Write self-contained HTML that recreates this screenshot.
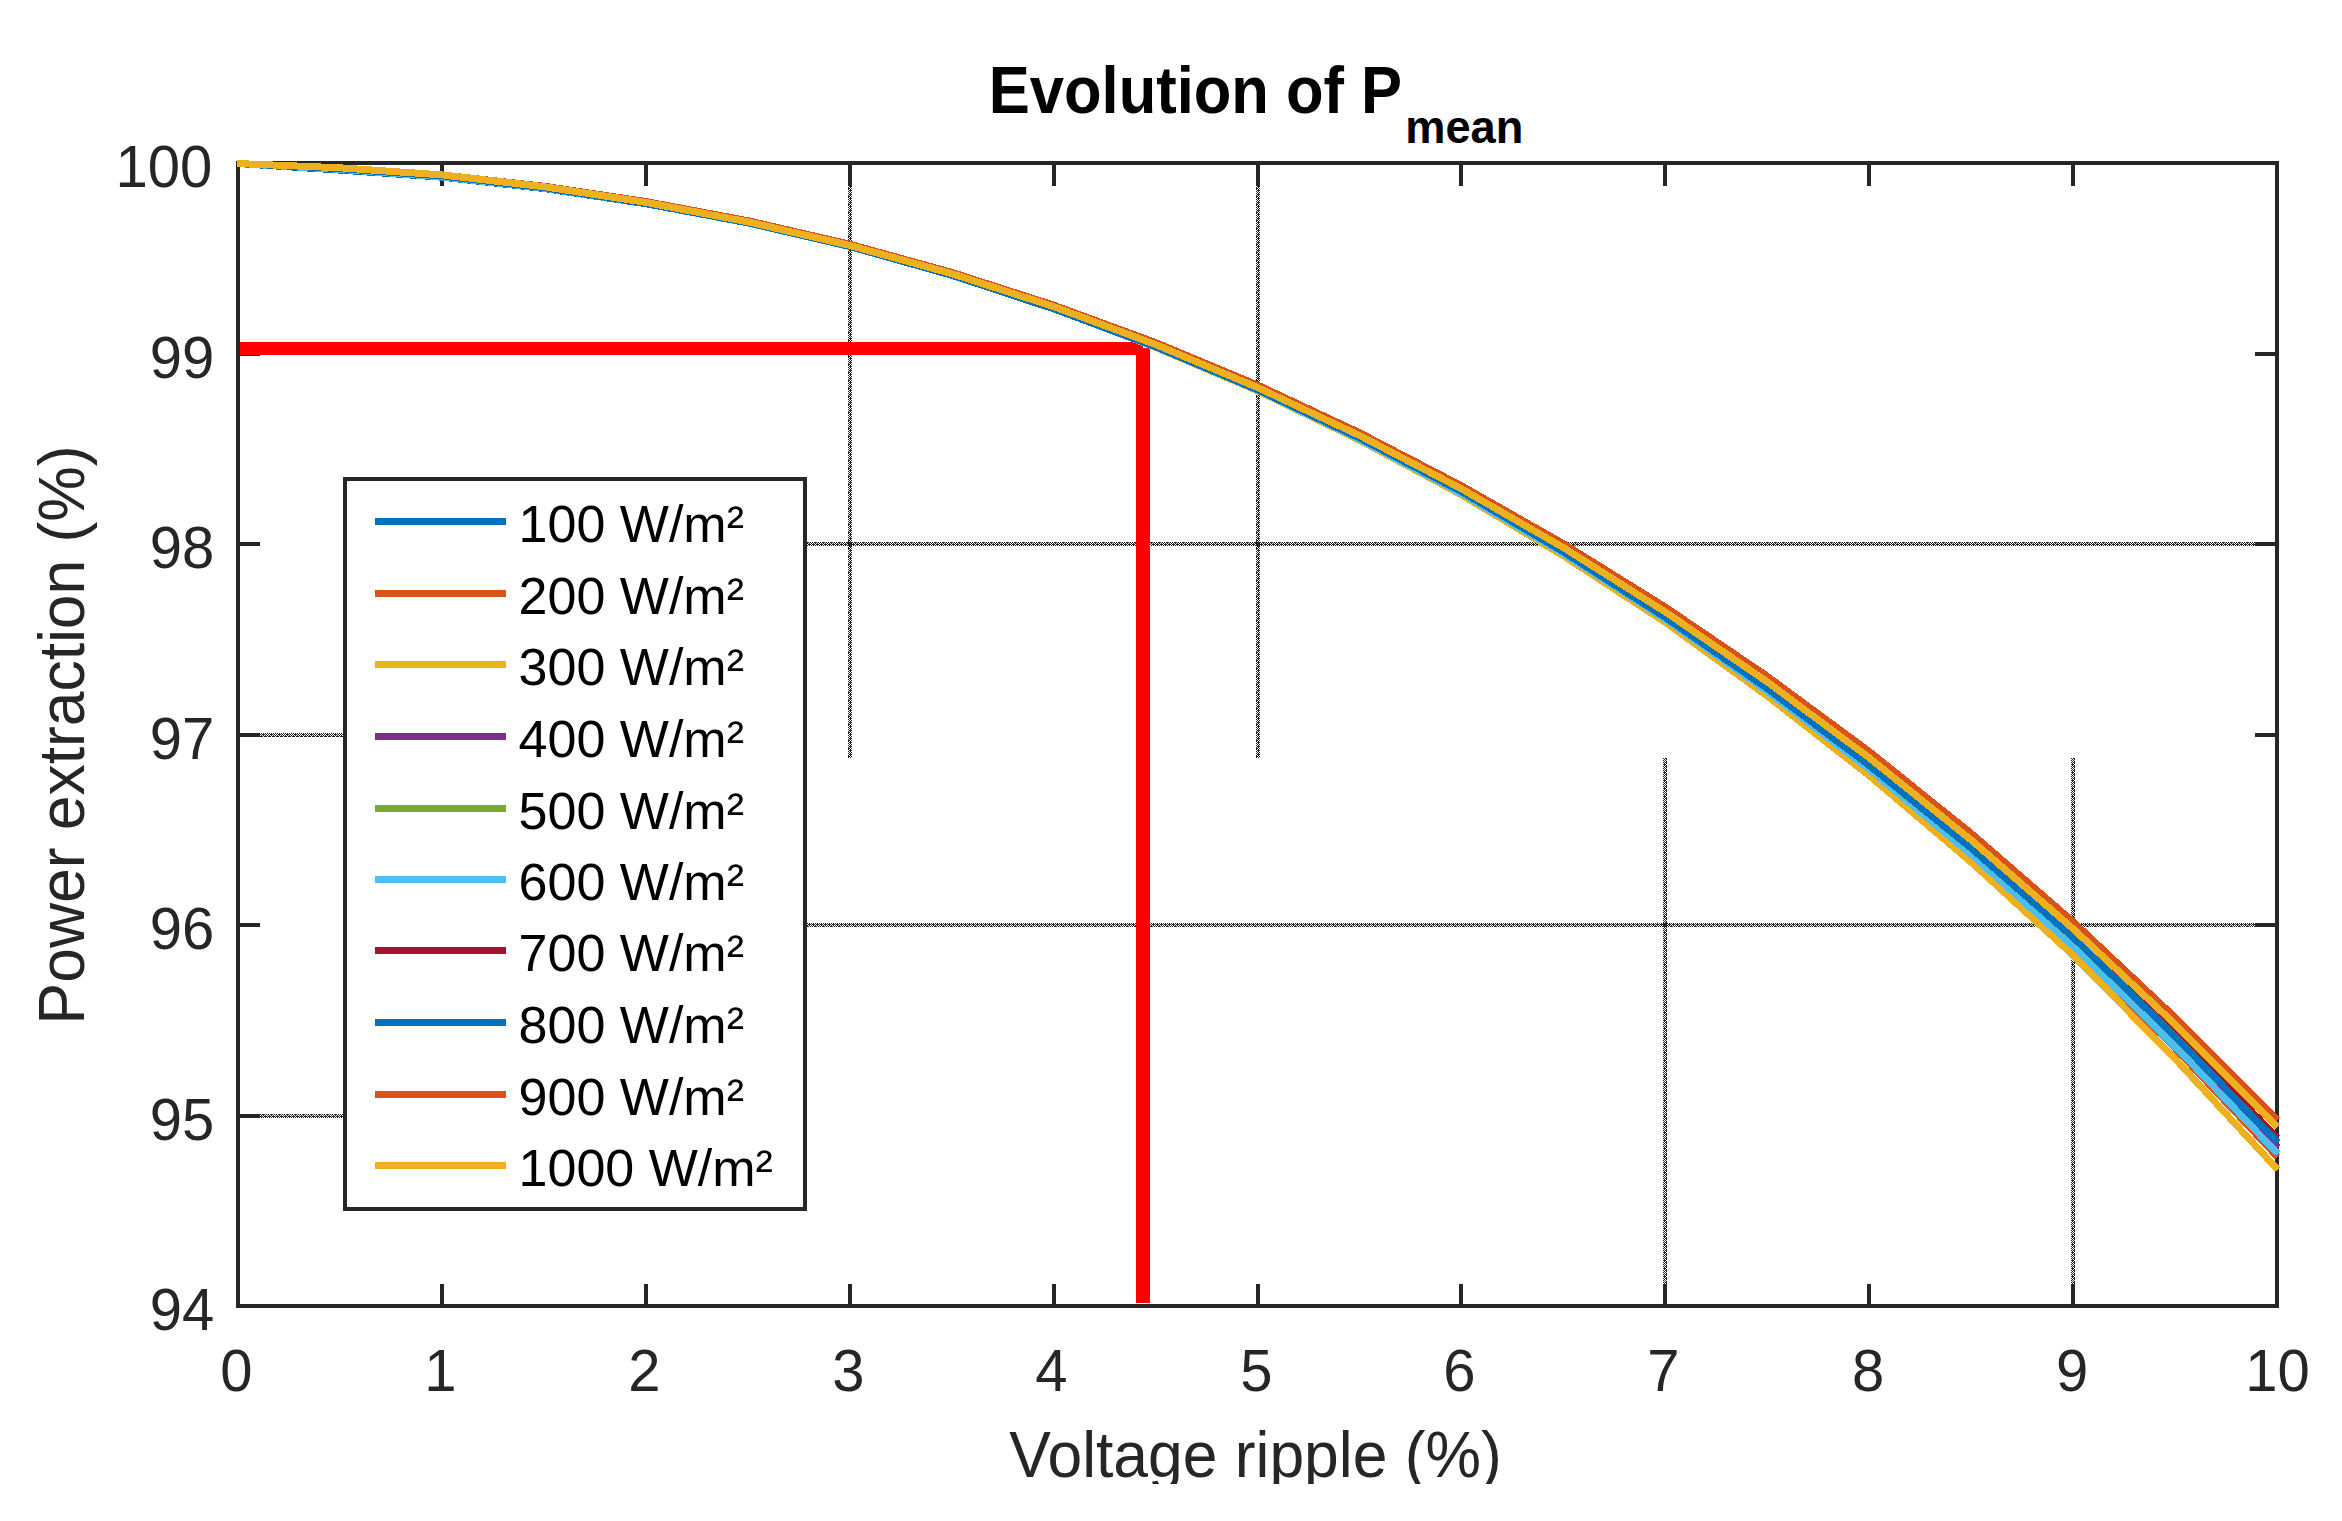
<!DOCTYPE html>
<html lang="en"><head><meta charset="utf-8"><title>Evolution of Pmean</title>
<style>
html,body{margin:0;padding:0;background:#fff;}
body{width:2342px;height:1521px;overflow:hidden;}
svg{display:block;}
text{font-family:"Liberation Sans", sans-serif;}
.tk{font-size:58px;fill:#262626;}
.lb{font-size:62.4px;fill:#262626;}
.lg{font-size:52px;fill:#000;}
.tt{font-size:61.6px;font-weight:bold;fill:#000;}
.sb{font-size:45.2px;font-weight:bold;fill:#000;}
</style></head><body>
<svg width="2342" height="1521" viewBox="0 0 2342 1521">
<defs>
<pattern id="gv" width="4" height="8" patternUnits="userSpaceOnUse"><g fill="#1f1f1f"><rect x="1" y="0" width="1" height="1"/><rect x="3" y="0" width="1" height="1"/><rect x="0" y="1" width="1" height="1"/><rect x="2" y="1" width="1" height="1"/><rect x="1" y="2" width="1" height="1"/><rect x="2" y="2" width="1" height="1"/><rect x="3" y="2" width="1" height="1"/><rect x="0" y="3" width="1" height="1"/><rect x="2" y="3" width="1" height="1"/><rect x="0" y="4" width="1" height="1"/><rect x="1" y="4" width="1" height="1"/><rect x="3" y="4" width="1" height="1"/><rect x="0" y="5" width="1" height="1"/><rect x="2" y="5" width="1" height="1"/><rect x="1" y="6" width="1" height="1"/><rect x="2" y="6" width="1" height="1"/><rect x="3" y="6" width="1" height="1"/><rect x="0" y="7" width="1" height="1"/><rect x="2" y="7" width="1" height="1"/></g></pattern>
<pattern id="gh" width="8" height="4" patternUnits="userSpaceOnUse" x="3" y="2"><g fill="#1f1f1f"><rect x="0" y="1" width="1" height="1"/><rect x="0" y="3" width="1" height="1"/><rect x="1" y="0" width="1" height="1"/><rect x="1" y="2" width="1" height="1"/><rect x="2" y="1" width="1" height="1"/><rect x="2" y="2" width="1" height="1"/><rect x="2" y="3" width="1" height="1"/><rect x="3" y="0" width="1" height="1"/><rect x="3" y="2" width="1" height="1"/><rect x="4" y="0" width="1" height="1"/><rect x="4" y="1" width="1" height="1"/><rect x="4" y="3" width="1" height="1"/><rect x="5" y="0" width="1" height="1"/><rect x="5" y="2" width="1" height="1"/><rect x="6" y="1" width="1" height="1"/><rect x="6" y="2" width="1" height="1"/><rect x="6" y="3" width="1" height="1"/><rect x="7" y="0" width="1" height="1"/><rect x="7" y="2" width="1" height="1"/></g></pattern>
<clipPath id="xlclip"><rect x="0" y="1380" width="2342" height="104"/></clipPath>
</defs>
<rect width="2342" height="1521" fill="#fff"/>
<g fill="url(#gv)" shape-rendering="crispEdges">
<rect x="848" y="186" width="4" height="572"/>
<rect x="1256" y="186" width="4" height="572"/>
<rect x="1663" y="758" width="4" height="526"/>
<rect x="2071" y="758" width="4" height="526"/>
</g>
<g fill="url(#gh)" shape-rendering="crispEdges">
<rect x="807" y="542" width="1448" height="4"/>
<rect x="807" y="923" width="1448" height="4"/>
<rect x="260" y="733" width="83" height="4"/>
<rect x="260" y="1114" width="83" height="4"/>
</g>
<g fill="#1f1f1f" shape-rendering="crispEdges">
<rect x="1256" y="542" width="4" height="4"/>
<rect x="1663" y="923" width="4" height="4"/>
</g>
<g fill="#262626" shape-rendering="crispEdges">
<rect x="236" y="161" width="4" height="1147"/>
<rect x="2275" y="161" width="4" height="1147"/>
<rect x="236" y="161" width="2043" height="4"/>
<rect x="236" y="1304" width="2043" height="4"/>
<rect x="440" y="163" width="4" height="23"/>
<rect x="440" y="1284" width="4" height="22"/>
<rect x="644" y="163" width="4" height="23"/>
<rect x="644" y="1284" width="4" height="22"/>
<rect x="848" y="163" width="4" height="23"/>
<rect x="848" y="1284" width="4" height="22"/>
<rect x="1052" y="163" width="4" height="23"/>
<rect x="1052" y="1284" width="4" height="22"/>
<rect x="1256" y="163" width="4" height="23"/>
<rect x="1256" y="1284" width="4" height="22"/>
<rect x="1459" y="163" width="4" height="23"/>
<rect x="1459" y="1284" width="4" height="22"/>
<rect x="1663" y="163" width="4" height="23"/>
<rect x="1663" y="1284" width="4" height="22"/>
<rect x="1867" y="163" width="4" height="23"/>
<rect x="1867" y="1284" width="4" height="22"/>
<rect x="2071" y="163" width="4" height="23"/>
<rect x="2071" y="1284" width="4" height="22"/>
<rect x="238" y="352" width="22" height="4"/>
<rect x="2255" y="352" width="22" height="4"/>
<rect x="238" y="542" width="22" height="4"/>
<rect x="2255" y="542" width="22" height="4"/>
<rect x="238" y="733" width="22" height="4"/>
<rect x="2255" y="733" width="22" height="4"/>
<rect x="238" y="923" width="22" height="4"/>
<rect x="2255" y="923" width="22" height="4"/>
<rect x="238" y="1114" width="22" height="4"/>
<rect x="2255" y="1114" width="22" height="4"/>
</g>
<g fill="#FF0000" shape-rendering="crispEdges">
<rect x="240" y="342" width="903" height="13"/>
<rect x="1136" y="348" width="14" height="955"/>
</g>
<g fill="none" stroke-width="7" stroke-linejoin="round" stroke-linecap="butt" shape-rendering="crispEdges">
<polyline stroke="#0072BD" points="237.0,163.5 339.9,170.1 441.9,177.2 543.9,188.5 645.8,203.7 747.8,222.9 849.7,246.4 951.6,275.2 1053.6,308.8 1155.5,346.7 1257.5,389.7 1359.5,438.0 1461.4,491.5 1563.3,551.7 1665.3,617.4 1767.2,688.4 1869.2,765.4 1971.2,848.1 2073.1,937.3 2175.1,1036.3 2277.6,1142.5"/>
<polyline stroke="#D95319" points="237.0,163.5 339.9,168.9 441.9,176.1 543.9,187.8 645.8,203.4 747.8,222.9 849.7,246.6 951.6,275.3 1053.6,308.8 1155.5,346.9 1257.5,390.1 1359.5,439.1 1461.4,493.4 1563.3,553.4 1665.3,619.0 1767.2,691.1 1869.2,769.1 1971.2,854.5 2073.1,946.4 2175.1,1048.1 2277.6,1157.0"/>
<polyline stroke="#EDB120" points="237.0,163.5 339.9,168.3 441.9,175.5 543.9,187.4 645.8,203.2 747.8,222.7 849.7,246.4 951.6,275.1 1053.6,308.6 1155.5,347.2 1257.5,390.8 1359.5,440.2 1461.4,494.8 1563.3,555.8 1665.3,622.3 1767.2,696.0 1869.2,775.6 1971.2,862.2 2073.1,955.3 2175.1,1058.8 2277.6,1169.5"/>
<polyline stroke="#7E2F8E" points="237.0,163.5 339.9,168.8 441.9,175.9 543.9,187.6 645.8,203.3 747.8,222.7 849.7,246.3 951.6,275.0 1053.6,308.4 1155.5,346.5 1257.5,389.7 1359.5,438.1 1461.4,491.8 1563.3,552.1 1665.3,617.9 1767.2,689.4 1869.2,766.8 1971.2,850.6 2073.1,940.8 2175.1,1040.6 2277.6,1147.5"/>
<polyline stroke="#77AC30" points="237.0,163.5 339.9,169.4 441.9,176.9 543.9,188.2 645.8,203.5 747.8,222.9 849.7,246.6 951.6,275.3 1053.6,308.8 1155.5,346.9 1257.5,390.1 1359.5,439.1 1461.4,493.4 1563.3,553.4 1665.3,619.0 1767.2,691.1 1869.2,769.1 1971.2,854.3 2073.1,946.0 2175.1,1046.2 2277.6,1153.5"/>
<polyline stroke="#4DBEEE" points="237.0,163.5 339.9,169.4 441.9,176.9 543.9,188.2 645.8,203.5 747.8,222.9 849.7,246.6 951.6,275.3 1053.6,308.8 1155.5,346.9 1257.5,390.1 1359.5,439.1 1461.4,493.4 1563.3,553.4 1665.3,619.0 1767.2,691.1 1869.2,769.1 1971.2,854.3 2073.1,946.0 2175.1,1046.2 2277.6,1153.5"/>
<polyline stroke="#A2142F" points="237.0,163.5 339.9,168.0 441.9,175.2 543.9,187.1 645.8,202.9 747.8,222.3 849.7,246.0 951.6,274.4 1053.6,307.6 1155.5,345.8 1257.5,389.0 1359.5,437.3 1461.4,490.8 1563.3,550.6 1665.3,615.9 1767.2,686.6 1869.2,763.3 1971.2,845.8 2073.1,934.8 2175.1,1032.9 2277.6,1138.2"/>
<polyline stroke="#0072BD" points="237.0,163.5 339.9,168.6 441.9,175.9 543.9,187.7 645.8,203.5 747.8,222.8 849.7,246.4 951.6,275.2 1053.6,308.8 1155.5,346.7 1257.5,389.7 1359.5,438.0 1461.4,491.5 1563.3,551.7 1665.3,617.4 1767.2,688.4 1869.2,765.4 1971.2,848.1 2073.1,937.3 2175.1,1036.3 2277.6,1142.5"/>
<polyline stroke="#D95319" points="237.0,163.5 339.9,167.8 441.9,174.9 543.9,186.2 645.8,201.5 747.8,220.7 849.7,244.2 951.6,272.3 1053.6,305.1 1155.5,342.5 1257.5,385.0 1359.5,432.7 1461.4,485.7 1563.3,543.6 1665.3,607.0 1767.2,676.2 1869.2,751.4 1971.2,833.3 2073.1,921.6 2175.1,1017.4 2277.6,1120.3"/>
<polyline stroke="#EDB120" points="237.0,163.5 339.9,167.8 441.9,174.9 543.9,186.7 645.8,202.4 747.8,221.8 849.7,245.4 951.6,273.6 1053.6,306.6 1155.5,344.5 1257.5,387.5 1359.5,435.5 1461.4,488.8 1563.3,547.6 1665.3,611.9 1767.2,681.9 1869.2,757.8 1971.2,840.1 2073.1,928.8 2175.1,1024.3 2277.6,1127.0"/>
</g>
<rect x="345" y="479" width="460" height="730" fill="#fff" stroke="#262626" stroke-width="4" shape-rendering="crispEdges"/>
<rect x="375" y="518" width="131" height="7" fill="#0072BD" shape-rendering="crispEdges"/>
<text class="lg" x="518.6" y="542.2">100 W/m²</text>
<rect x="375" y="590" width="131" height="7" fill="#D95319" shape-rendering="crispEdges"/>
<text class="lg" x="518.6" y="614.2">200 W/m²</text>
<rect x="375" y="661" width="131" height="7" fill="#EDB120" shape-rendering="crispEdges"/>
<text class="lg" x="518.6" y="685.2">300 W/m²</text>
<rect x="375" y="733" width="131" height="7" fill="#7E2F8E" shape-rendering="crispEdges"/>
<text class="lg" x="518.6" y="757.2">400 W/m²</text>
<rect x="375" y="805" width="131" height="7" fill="#77AC30" shape-rendering="crispEdges"/>
<text class="lg" x="518.6" y="829.2">500 W/m²</text>
<rect x="375" y="876" width="131" height="7" fill="#4DBEEE" shape-rendering="crispEdges"/>
<text class="lg" x="518.6" y="900.2">600 W/m²</text>
<rect x="375" y="947" width="131" height="7" fill="#A2142F" shape-rendering="crispEdges"/>
<text class="lg" x="518.6" y="971.2">700 W/m²</text>
<rect x="375" y="1019" width="131" height="7" fill="#0072BD" shape-rendering="crispEdges"/>
<text class="lg" x="518.6" y="1043.2">800 W/m²</text>
<rect x="375" y="1091" width="131" height="7" fill="#D95319" shape-rendering="crispEdges"/>
<text class="lg" x="518.6" y="1115.2">900 W/m²</text>
<rect x="375" y="1162" width="131" height="7" fill="#EDB120" shape-rendering="crispEdges"/>
<text class="lg" x="518.6" y="1186.2">1000 W/m²</text>
<text class="tk" text-anchor="middle" transform="translate(236.4,1390.6) scale(1,1.018)">0</text>
<text class="tk" text-anchor="middle" transform="translate(440.4,1390.6) scale(1,1.018)">1</text>
<text class="tk" text-anchor="middle" transform="translate(644.4,1390.6) scale(1,1.018)">2</text>
<text class="tk" text-anchor="middle" transform="translate(848.4,1390.6) scale(1,1.018)">3</text>
<text class="tk" text-anchor="middle" transform="translate(1051.4,1390.6) scale(1,1.018)">4</text>
<text class="tk" text-anchor="middle" transform="translate(1256.4,1390.6) scale(1,1.018)">5</text>
<text class="tk" text-anchor="middle" transform="translate(1459.4,1390.6) scale(1,1.018)">6</text>
<text class="tk" text-anchor="middle" transform="translate(1663.4,1390.6) scale(1,1.018)">7</text>
<text class="tk" text-anchor="middle" transform="translate(1868.1,1390.6) scale(1,1.018)">8</text>
<text class="tk" text-anchor="middle" transform="translate(2072.1,1390.6) scale(1,1.018)">9</text>
<text class="tk" text-anchor="middle" transform="translate(2277.4,1390.6) scale(1,1.018)">10</text>
<text class="tk" text-anchor="end" transform="translate(212.3,186.8) scale(1,1.018)">100</text>
<text class="tk" text-anchor="end" transform="translate(214.3,377.8) scale(1,1.018)">99</text>
<text class="tk" text-anchor="end" transform="translate(214.3,567.8) scale(1,1.018)">98</text>
<text class="tk" text-anchor="end" transform="translate(214.3,758.8) scale(1,1.018)">97</text>
<text class="tk" text-anchor="end" transform="translate(214.3,948.8) scale(1,1.018)">96</text>
<text class="tk" text-anchor="end" transform="translate(214.3,1139.8) scale(1,1.018)">95</text>
<text class="tk" text-anchor="end" transform="translate(214.3,1329.8) scale(1,1.018)">94</text>
<g clip-path="url(#xlclip)"><text class="lb" text-anchor="middle" transform="translate(1255.5,1477.2) scale(1,1.05)">Voltage ripple (%)</text></g>
<text class="lb" text-anchor="middle" transform="translate(83.6,734.9) rotate(-90) scale(1,1.03)">Power extraction (%)</text>
<text class="tt" transform="translate(988.8,113.4) scale(0.9985,1.075)">Evolution of P</text>
<text class="sb" transform="translate(1405.2,142.5) scale(1,1.03)">mean</text>
</svg>
</body></html>
